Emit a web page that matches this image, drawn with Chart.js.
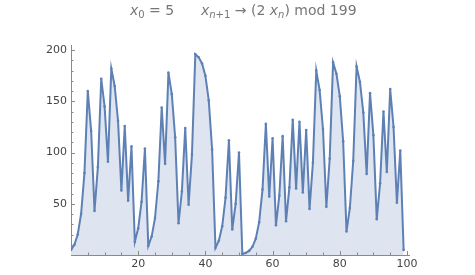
<!DOCTYPE html>
<html><head><meta charset="utf-8">
<script src="https://cdn.jsdelivr.net/npm/chart.js@4/dist/chart.umd.min.js"></script>
<style>
html,body{margin:0;padding:0;background:#fff;}
#wrap{position:relative;width:475px;height:275px;}
#title{position:absolute;left:130px;top:0px;font-family:"DejaVu Sans",sans-serif;font-size:14px;color:#777;white-space:nowrap;line-height:20px;}
#title i{font-style:italic;}
#title sub{font-size:10px;vertical-align:-3px;line-height:0;}
</style></head>
<body><div id="wrap"><canvas id="c" width="475" height="275"></canvas>
<div id="title"><i>x</i><sub>0</sub> = 5&nbsp;&nbsp;&nbsp;&nbsp;&nbsp;&nbsp;<i>x</i><sub><i>n</i>+1</sub> → (2 <i>x</i><sub><i>n</i></sub>) mod 199</div></div>
<script>
// sequence values x_n for n = 0..99
const values = [5,10,20,40,80,160,121,43,86,172,145,91,182,165,131,63,126,53,106,13,
26,52,104,9,18,36,72,144,89,178,157,115,31,62,124,49,98,196,193,187,
175,151,103,7,14,28,56,112,25,50,100,1,2,4,8,16,32,64,128,57,
114,29,58,116,33,66,132,65,130,61,122,45,90,180,161,123,47,94,188,177,
155,111,23,46,92,184,169,139,79,158,117,35,70,140,81,162,125,51,102,5];
const xTicks = [20,40,60,80,100];
const yTicks = [50,100,150,200];

const lineColor = 'rgb(94,129,181)';
const axisColor = '#8a8a8a';

const tickPlugin = {
  id:'tickmarks',
  afterDatasetsDraw(chart){
    const ctx = chart.ctx, xs = chart.scales.x, ys = chart.scales.y;
    const x0 = xs.getPixelForValue(0), y0 = ys.getPixelForValue(0);
    ctx.save();
    ctx.strokeStyle = axisColor; ctx.lineWidth = 1;
    ctx.beginPath();
    for(let v=5; v<=100; v+=5){
      const px = Math.round(xs.getPixelForValue(v))+0.5;
      const len = (v%20===0)?4:2.5;
      ctx.moveTo(px, y0); ctx.lineTo(px, y0-len);
    }
    for(let v=10; v<=200; v+=10){
      const py = Math.round(ys.getPixelForValue(v))+0.5;
      const len = (v%50===0)?4:2.5;
      ctx.moveTo(x0, py); ctx.lineTo(x0+len, py);
    }
    ctx.stroke();
    ctx.restore();
  }
};

new Chart(document.getElementById('c'), {
  type:'line',
  data:{datasets:[{
    data: values.map((v,i)=>({x:i,y:v})),
    borderColor: lineColor,
    borderWidth: 2,
    backgroundColor: 'rgba(222,228,240,1)',
    fill: 'origin',
    pointRadius: 1.3,
    pointBackgroundColor: lineColor,
    pointBorderColor: lineColor,
    pointBorderWidth: 0,
    tension: 0
  }]},
  options:{
    responsive:false, animation:false,
    layout:{padding:{left:0,right:66,top:45,bottom:0}},
    plugins:{legend:{display:false},tooltip:{enabled:false}},
    scales:{
      x:{type:'linear',min:0,max:100.6,
        grid:{display:false,drawTicks:false},
        border:{display:true,color:axisColor,width:1},
        afterBuildTicks:(s)=>{s.ticks = xTicks.map(v=>({value:v}));},
        afterFit:(s)=>{s.height=20;},
        ticks:{padding:3,maxRotation:0,color:'#444',font:{family:'"DejaVu Sans", sans-serif',size:11}}
      },
      y:{type:'linear',min:0,max:205,
        grid:{display:false,drawTicks:false},
        border:{display:true,color:axisColor,width:1},
        afterBuildTicks:(s)=>{s.ticks = yTicks.map(v=>({value:v}));},
        afterFit:(s)=>{s.width=71;},
        ticks:{padding:4,color:'#444',font:{family:'"DejaVu Sans", sans-serif',size:11}}
      }
    }
  },
  plugins:[tickPlugin]
});
</script></body></html>
